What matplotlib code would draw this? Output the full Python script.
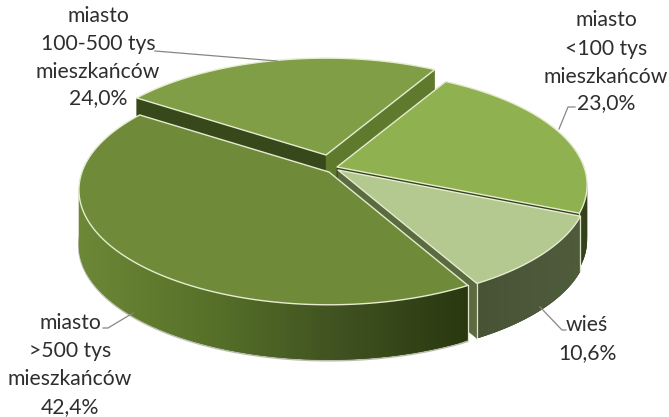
import numpy as np
import matplotlib
matplotlib.use("Agg")
import matplotlib.pyplot as plt
from matplotlib.patches import Polygon
from matplotlib.colors import to_rgb

# data
names = ["miasto\n>500 tys\nmieszkańców", "wieś", "miasto\n<100 tys\nmieszkańców", "miasto\n100-500 tys\nmieszkańców"]
shares = [42.4, 10.6, 23.0, 24.0]
value_labels = ["42,4%", "10,6%", "23,0%", "24,0%"]

# style / layout
plt.rcParams["font.family"] = ["Lato", "DejaVu Sans"]
top_colors = ["#6f8b3a", "#b3c98f", "#8fb14f", "#7f9e46"]
START = 60.0        # angle where the 100-500 / <100 boundary lies
R, S, K = 247, 112, 0.1565
DEPTH = 55
apexes = [(329, 172), (338, 170), (337, 167), (326, 155)]
text_pos = [(70, [323, 351, 379, 407]), (587, [325, 353]),
            (606, [20, 49, 77, 103]), (98, [16, 44, 72, 98])]
leaders = [[(103, 328), (108, 328), (133, 313)],
           [(540, 307), (562, 330), (566, 330)],
           [(575, 107), (568, 107), (559, 129)],
           [(155, 51), (277, 61)]]
side_stops = [
    [(80, "#6c8736"), (200, "#587329"), (340, "#3f5120"), (467, "#29380f")],
    [(470, "#465234"), (580, "#4f5c3c")],
    [(480, "#3c4c1c"), (590, "#34421a")],
    [(130, "#37481a"), (440, "#37481a")],
]
radial_colors = [("#2e3d14", "#2e3d14"), ("#4a5a36", "#5a6b40"),
                 ("#35431c", "#35431c"), ("#37481a", "#5f7a2c")]
EDGE = "#e6ecd0"

fig = plt.figure(figsize=(6.69, 4.17), dpi=100)
ax = fig.add_axes([0, 0, 1, 1])
ax.set_xlim(0, 669)
ax.set_ylim(417, 0)
ax.axis("off")


def rim(apex, t):
    t = np.radians(t)
    d = 1 + K * np.sin(t)
    return apex[0] + R * np.cos(t) / d, apex[1] - S * np.sin(t) / d


def grad(stops, x):
    xs = [s[0] for s in stops]
    cols = np.array([to_rgb(s[1]) for s in stops])
    return tuple(np.interp(x, xs, cols[:, i]) for i in range(3))


# angular extents, clockwise, from the shares
ends = {}
a = START
ends[2] = (a, a - shares[2] * 3.6)            # <100
ends[1] = (ends[2][1], ends[2][1] - shares[1] * 3.6)  # wieś
ends[0] = (ends[1][1], ends[1][1] - shares[0] * 3.6)  # >500
ends[3] = (ends[0][1], ends[0][1] - shares[3] * 3.6)  # 100-500

for i in [3, 2, 1, 0]:
    apex = apexes[i]
    t0, t1 = ends[i]
    ts = np.linspace(t0, t1, 160)
    pts = np.array([rim(apex, t) for t in ts])
    # radial walls
    for tt, col in ((t0, radial_colors[i][0]), (t1, radial_colors[i][1])):
        p = rim(apex, tt)
        ax.add_patch(Polygon([apex, p, (p[0], p[1] + DEPTH), (apex[0], apex[1] + DEPTH)],
                             closed=True, fc=col, ec=col, lw=0.3, zorder=1))
    # rim wall
    if i == 0:
        ax.plot(pts[:, 0], pts[:, 1] + DEPTH + 0.8, color="#b9bdae", lw=1.4, zorder=1,
                solid_capstyle="round")
    keep = [j for j in range(len(ts) - 1)
            if np.sin(np.radians((ts[j] + ts[j + 1]) / 2)) <= 0.35]
    if i == 0:
        keep = keep[::-1] if False else keep
    for j in keep:
        k = min(j + 3, len(ts) - 1)
        q0, q1 = pts[j], pts[k]
        mid = pts[j:k + 1]
        c = grad(side_stops[i], pts[j:j + 2, 0].mean())
        poly = np.vstack([mid, mid[::-1] + [0, DEPTH]])
        ax.add_patch(Polygon(poly, closed=True, fc=c, ec="none", lw=0, zorder=1))
    p0, p1 = pts[0], pts[-1]
    if i in (0, 1, 2):
        ax.plot([p0[0], p0[0]], [p0[1], p0[1] + DEPTH], color="#dfe5cc", lw=0.9, zorder=1)
        ax.plot([p1[0], p1[0]], [p1[1], p1[1] + DEPTH], color="#dfe5cc", lw=0.9, zorder=1)
    face = np.vstack([[apex], pts])
    ax.add_patch(Polygon(face, closed=True, fc=top_colors[i], ec=EDGE, lw=1.0,
                         joinstyle="round", zorder=1))

for (x, ys), nm, val in zip(text_pos, names, value_labels):
    for y, line in zip(ys, nm.split("\n") + [val]):
        ax.text(x, y, line, ha="center", va="center", fontsize=15.2, color="#2e2e2e", zorder=3)

for l in leaders:
    xs, ys = zip(*l)
    ax.plot(xs, ys, color="#8a8580", lw=0.9, zorder=2)

fig.savefig("out.png", dpi=100, facecolor="white")
